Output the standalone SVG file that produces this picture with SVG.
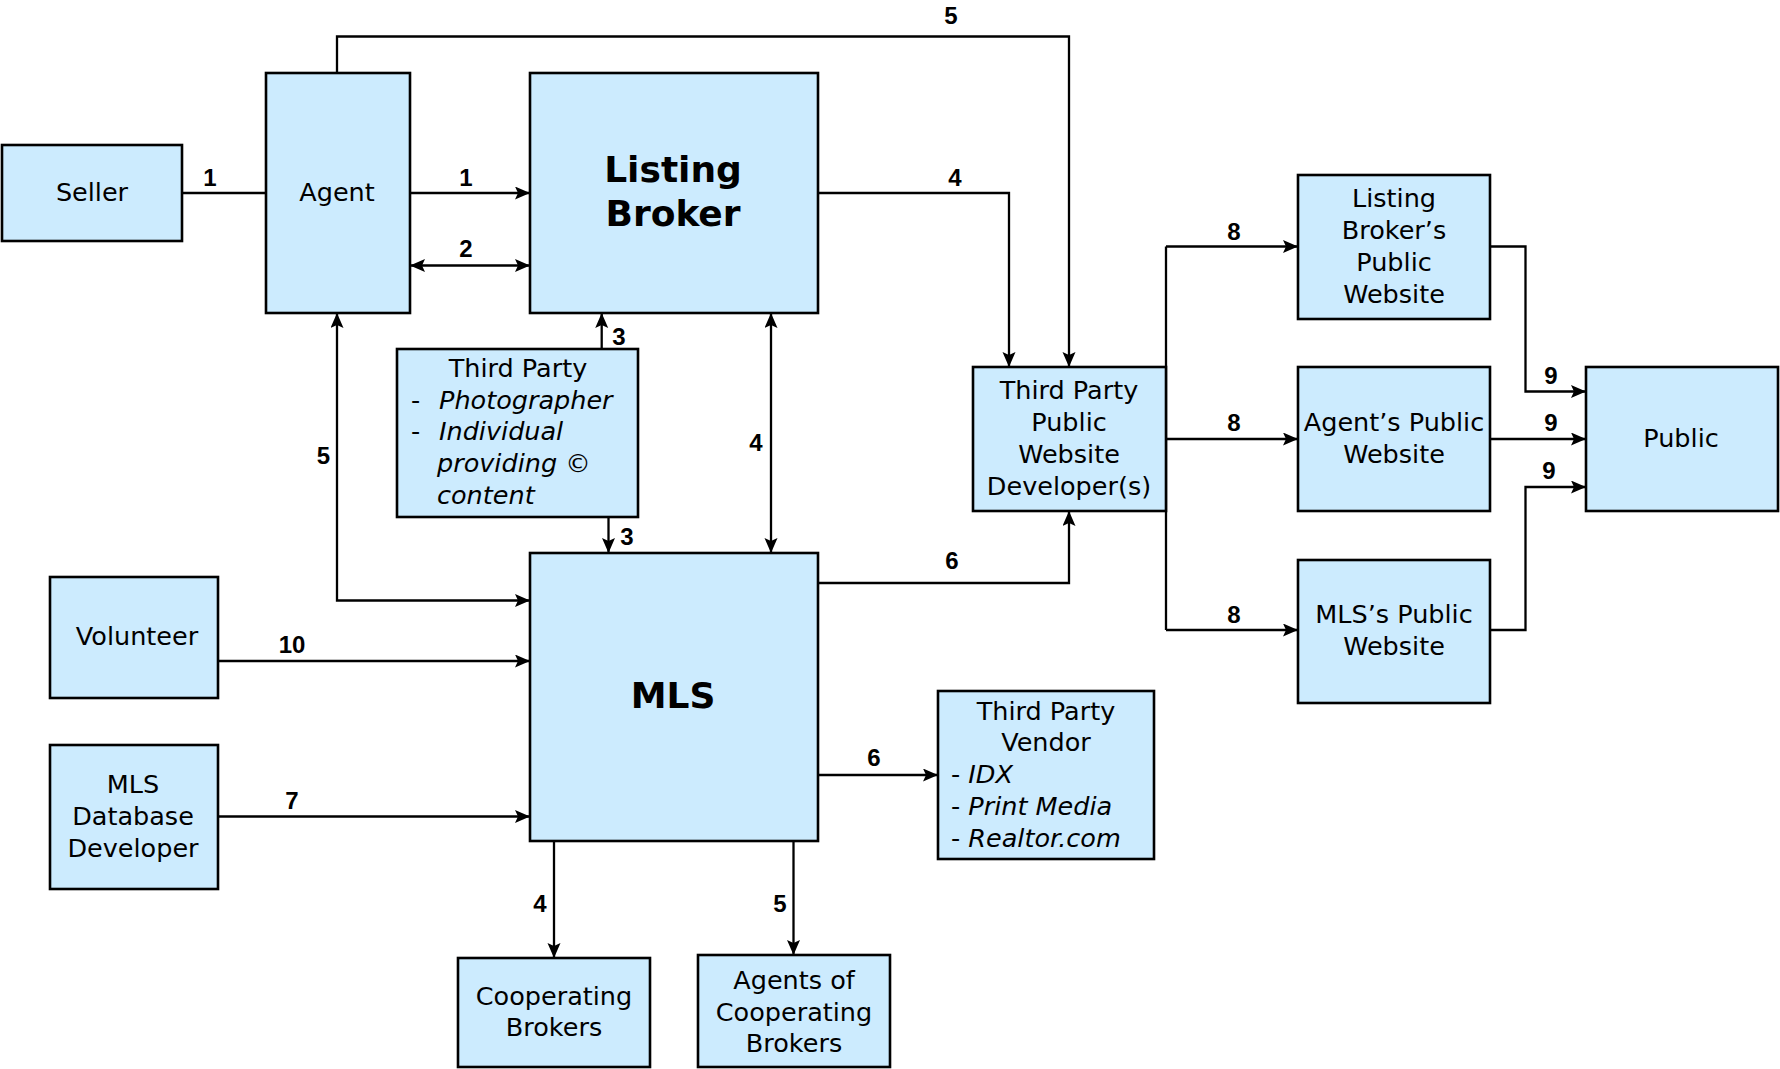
<svg xmlns="http://www.w3.org/2000/svg" width="1780" height="1069" viewBox="0 0 1780 1069">
<style>
.box{fill:#CCEBFE;stroke:#000;stroke-width:2.6}
.t{font-family:"DejaVu Sans",Verdana,sans-serif;font-size:25.5px;fill:#000;text-anchor:middle}
.tl{font-family:"DejaVu Sans",Verdana,sans-serif;font-size:25.5px;fill:#000}
.it{font-style:italic}
.big{font-family:"DejaVu Sans",Verdana,sans-serif;font-size:36px;font-weight:bold;fill:#000;text-anchor:middle}
.n{font-family:"Liberation Sans",Arial,sans-serif;font-size:24px;font-weight:bold;fill:#000;text-anchor:middle}
.c{fill:none;stroke:#000;stroke-width:2.3}
.a{marker-end:url(#ar)}
.b{marker-start:url(#ar);marker-end:url(#ar)}
</style>
<defs>
<marker id="ar" markerUnits="userSpaceOnUse" markerWidth="16" markerHeight="14" refX="15" refY="6.5" orient="auto-start-reverse" viewBox="0 0 16 14">
<path d="M0,0 L15,6.5 L0,13 L3,6.5 Z" fill="#000"/>
</marker>
</defs>
<rect width="1780" height="1069" fill="#fff"/>
<g id="connectors">
<path class="c" d="M182,193 L266,193"/>
<path class="c a" d="M410,193 L530,193"/>
<path class="c b" d="M410,265.5 L530,265.5"/>
<path class="c a" d="M337,73 L337,36.5 L1069,36.5 L1069,367"/>
<path class="c a" d="M818,193 L1009,193 L1009,367"/>
<path class="c a" d="M601.7,349 L601.7,313"/>
<path class="c a" d="M608.5,517 L608.5,553"/>
<path class="c b" d="M771,313 L771,553"/>
<path class="c b" d="M337,313 L337,600.5 L530,600.5"/>
<path class="c a" d="M218,661 L530,661"/>
<path class="c a" d="M218,816.5 L530,816.5"/>
<path class="c a" d="M818,583 L1069,583 L1069,511"/>
<path class="c a" d="M818,775 L938,775"/>
<path class="c a" d="M554,841 L554,958"/>
<path class="c a" d="M793.5,841 L793.5,955"/>
<path class="c" d="M1166,246.5 L1166,630"/>
<path class="c a" d="M1166,246.5 L1298,246.5"/>
<path class="c a" d="M1166,439 L1298,439"/>
<path class="c a" d="M1166,630 L1298,630"/>
<path class="c a" d="M1490,246.5 L1525.5,246.5 L1525.5,391.5 L1586,391.5"/>
<path class="c a" d="M1490,439 L1586,439"/>
<path class="c a" d="M1490,630 L1525.5,630 L1525.5,487 L1586,487"/>
<text class="n" x="210" y="186">1</text>
<text class="n" x="466" y="186">1</text>
<text class="n" x="466" y="257">2</text>
<text class="n" x="951" y="24">5</text>
<text class="n" x="955" y="186">4</text>
<text class="n" x="619" y="345">3</text>
<text class="n" x="627" y="545">3</text>
<text class="n" x="756" y="451">4</text>
<text class="n" x="323.5" y="464">5</text>
<text class="n" x="292" y="653">10</text>
<text class="n" x="292" y="809">7</text>
<text class="n" x="952" y="569">6</text>
<text class="n" x="874" y="766">6</text>
<text class="n" x="540" y="912">4</text>
<text class="n" x="780" y="912">5</text>
<text class="n" x="1234" y="240">8</text>
<text class="n" x="1234" y="431">8</text>
<text class="n" x="1234" y="623">8</text>
<text class="n" x="1551" y="384">9</text>
<text class="n" x="1551" y="431">9</text>
<text class="n" x="1549" y="479">9</text>
</g>
<g id="seller"><rect class="box" x="2" y="145" width="180" height="96"/><text class="t" x="92" y="201">Seller</text></g>
<g id="agent"><rect class="box" x="266" y="73" width="144" height="240"/><text class="t" x="337" y="201">Agent</text></g>
<g id="listing-broker"><rect class="box" x="530" y="73" width="288" height="240"/><text class="big" x="673" y="182">Listing</text><text class="big" x="673" y="226">Broker</text></g>
<g id="third-party-photographer"><rect class="box" x="397" y="349" width="241" height="168"/>
<text class="t" x="518" y="377">Third Party</text>
<text class="tl" x="411" y="409">-</text><text class="tl it" x="439" y="409">Photographer</text>
<text class="tl" x="411" y="440">-</text><text class="tl it" x="439" y="440">Individual</text>
<text class="tl it" x="437" y="472">providing ©</text>
<text class="tl it" x="437" y="504">content</text></g>
<g id="mls"><rect class="box" x="530" y="553" width="288" height="288"/><text class="big" x="673" y="708">MLS</text></g>
<g id="volunteer"><rect class="box" x="50" y="577" width="168" height="121"/><text class="t" x="137" y="645">Volunteer</text></g>
<g id="mls-database-developer"><rect class="box" x="50" y="745" width="168" height="144"/><text class="t" x="133" y="793">MLS</text><text class="t" x="133" y="825">Database</text><text class="t" x="133" y="857">Developer</text></g>
<g id="cooperating-brokers"><rect class="box" x="458" y="958" width="192" height="109"/><text class="t" x="554" y="1005">Cooperating</text><text class="t" x="554" y="1036">Brokers</text></g>
<g id="agents-of-cooperating-brokers"><rect class="box" x="698" y="955" width="192" height="112"/><text class="t" x="794" y="989">Agents of</text><text class="t" x="794" y="1021">Cooperating</text><text class="t" x="794" y="1052">Brokers</text></g>
<g id="third-party-vendor"><rect class="box" x="938" y="691" width="216" height="168"/>
<text class="t" x="1046" y="720">Third Party</text><text class="t" x="1046" y="751">Vendor</text>
<text class="tl" x="951" y="783">- <tspan class="it">IDX</tspan></text>
<text class="tl" x="951" y="815">- <tspan class="it">Print Media</tspan></text>
<text class="tl" x="951" y="847">- <tspan class="it">Realtor.com</tspan></text></g>
<g id="third-party-public-website-developers"><rect class="box" x="973" y="367" width="193" height="144"/><text class="t" x="1069" y="399">Third Party</text><text class="t" x="1069" y="431">Public</text><text class="t" x="1069" y="463">Website</text><text class="t" x="1069" y="495">Developer(s)</text></g>
<g id="listing-brokers-public-website"><rect class="box" x="1298" y="175" width="192" height="144"/><text class="t" x="1394" y="207">Listing</text><text class="t" x="1394" y="239">Broker’s</text><text class="t" x="1394" y="271">Public</text><text class="t" x="1394" y="303">Website</text></g>
<g id="agents-public-website"><rect class="box" x="1298" y="367" width="192" height="144"/><text class="t" x="1394" y="431">Agent’s Public</text><text class="t" x="1394" y="463">Website</text></g>
<g id="mls-public-website"><rect class="box" x="1298" y="560" width="192" height="143"/><text class="t" x="1394" y="623">MLS’s Public</text><text class="t" x="1394" y="655">Website</text></g>
<g id="public"><rect class="box" x="1586" y="367" width="192" height="144"/><text class="t" x="1681" y="447">Public</text></g>
</svg>
